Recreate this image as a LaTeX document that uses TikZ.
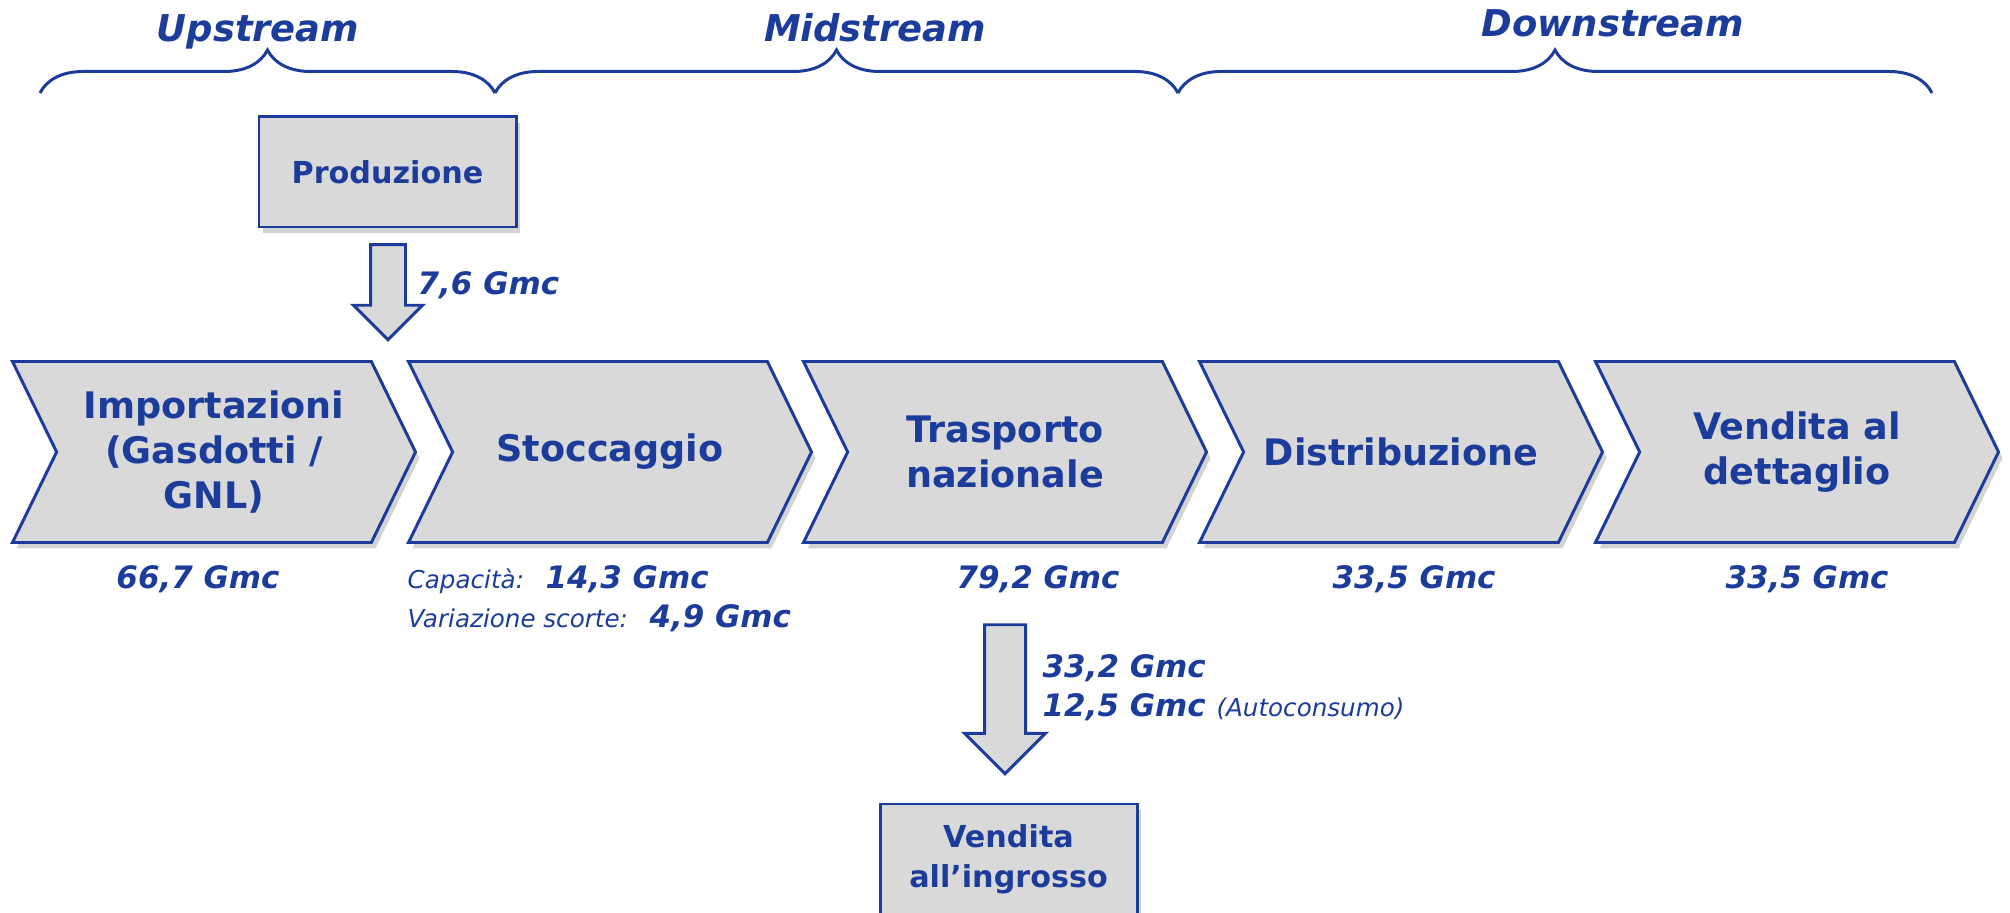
\documentclass[tikz,border=0pt]{standalone}
\usepackage{fontspec}
\setmainfont{DejaVu Sans}
\usepackage{tikz}
\usetikzlibrary{shapes.symbols,shapes.arrows,shadows,decorations.pathreplacing}
\usepackage{xcolor}
\definecolor{gasblue}{RGB}{28,60,155}
\definecolor{gasgray}{RGB}{217,217,217}
\newcommand{\noteit}[1]{{\fontsize{7}{11}\selectfont\mdseries\itshape #1}}

\tikzset{
	chevron/.style={draw=gasblue, line width=0.85pt, fill=gasgray, shape=signal, signal from=west, signal to=east,
		signal pointer angle=128, minimum width=4.03cm, minimum height=1.81cm, inner sep=0pt, align=center,
		text=gasblue, font=\fontsize{10.4}{12.8}\selectfont\bfseries,
		drop shadow={opacity=0.35, shadow xshift=0.04cm, shadow yshift=-0.06cm}},
	stagebox/.style={draw=gasblue, line width=0.85pt, fill=gasgray, minimum width=2.57cm, minimum height=1.10cm,
		inner sep=0pt, align=center, text=gasblue, font=\fontsize{8.6}{11.4}\selectfont\bfseries,
		drop shadow={opacity=0.35, shadow xshift=0.04cm, shadow yshift=-0.06cm}},
	flowarrow/.style={draw=gasblue, line width=0.85pt, fill=gasgray, shape=single arrow, inner xsep=0pt, rotate=-90},
	qty/.style={text=gasblue, font=\fontsize{8.8}{11.1}\selectfont\bfseries\itshape, inner sep=0pt},
	segment/.style={draw=gasblue, line width=0.85pt, decorate, decoration={brace, amplitude=0.43cm}},
	segmentlabel/.style={text=gasblue, font=\fontsize{10.5}{12}\selectfont\bfseries\itshape, inner sep=0pt}
}

\begin{document}
\begin{tikzpicture}
	\useasboundingbox (0, 0) rectangle (20.10, 9.12);
	% filiera
	\node (imp) [chevron] at (2.14, 4.60) {Importazioni\\(Gasdotti /\\GNL)};
	\node (sto) [chevron] at (6.10, 4.60) {Stoccaggio};
	\node (tra) [chevron] at (10.05, 4.60) {Trasporto\\nazionale};
	\node (dis) [chevron] at (14.01, 4.60) {Distribuzione};
	\node (ven) [chevron] at (17.97, 4.60) {Vendita al\\dettaglio};
	\node (prod) [stagebox] at (3.875, 7.40) {Produzione};
	\node (ingr) [stagebox] at (10.085, 0.53) {Vendita\\all’ingrosso};
	% frecce
	\node (a1) [flowarrow, minimum height=0.95cm, inner ysep=0.16cm, single arrow head extend=0.17cm] at (3.88, 6.285) {};
	\node (a2) [flowarrow, minimum height=1.49cm, inner ysep=0.19cm, single arrow head extend=0.20cm] at (10.05, 2.23) {};
	\node (qprod) [qty, anchor=west] at (4.17, 6.27) {7,6 Gmc};
	\node (qingr) [qty, anchor=west, align=left] at (10.42, 2.245) {33,2 Gmc\\12,5 Gmc \noteit{(Autoconsumo)}};
	% quantita
	\node (qimp) [qty] at (1.98, 3.33) {66,7 Gmc};
	\node (qsto) [qty, anchor=west, align=left] at (4.07, 3.13) {\noteit{Capacità:}\ \ 14,3 Gmc\\\noteit{Variazione scorte:}\ \ 4,9 Gmc};
	\node (qtra) [qty] at (10.38, 3.33) {79,2 Gmc};
	\node (qdis) [qty] at (14.14, 3.33) {33,5 Gmc};
	\node (qven) [qty] at (18.07, 3.33) {33,5 Gmc};
	% segmenti
	\coordinate (s0) at (0.40, 8.19);
	\coordinate (s1) at (4.95, 8.19);
	\coordinate (s2) at (11.78, 8.19);
	\coordinate (s3) at (19.32, 8.19);
	\draw[segment] (s0) -- (s1);
	\draw[segment] (s1) -- (s2);
	\draw[segment] (s2) -- (s3);
	\node (up) [segmentlabel] at (2.58, 8.80) {Upstream};
	\node (mid) [segmentlabel] at (8.75, 8.84) {Midstream};
	\node (down) [segmentlabel] at (16.13, 8.89) {Downstream};
\end{tikzpicture}
\end{document}
